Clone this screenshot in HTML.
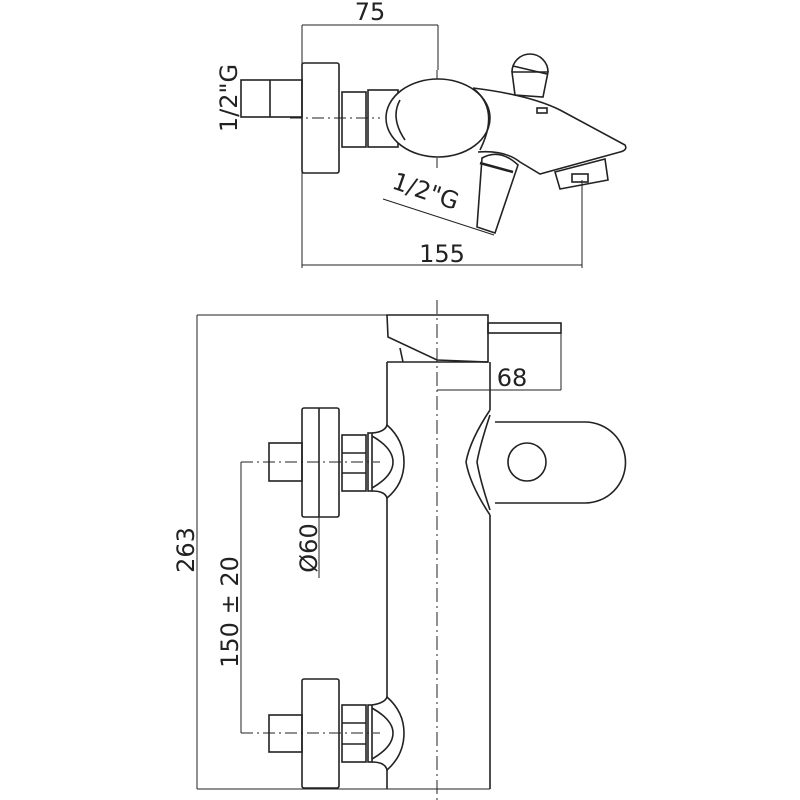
<!DOCTYPE html>
<html><head><style>html,body{margin:0;padding:0;background:#fff}svg{display:block}</style></head>
<body>
<svg width="800" height="800" viewBox="0 0 800 800" xmlns="http://www.w3.org/2000/svg" fill="none" stroke="#222" stroke-width="1.6" font-family="'DejaVu Sans','Liberation Sans',sans-serif">
<!-- TOP VIEW -->
<g stroke-width="1">
<line x1="302" y1="25" x2="438" y2="25"/>
<line x1="302" y1="25" x2="302" y2="268"/>
<line x1="438" y1="25" x2="438" y2="70"/>
<line x1="302" y1="265" x2="582" y2="265"/>
<line x1="582" y1="180" x2="582" y2="268"/>
<line x1="437" y1="70" x2="437" y2="168" stroke-dasharray="12,4,2,4"/>
<line x1="290" y1="118" x2="380" y2="118" stroke-dasharray="12,4,2,4"/>
<line x1="383" y1="199" x2="494" y2="235"/>
</g>
<text x="370" y="20" font-size="24" fill="#222" stroke="none" text-anchor="middle">75</text>
<text x="442" y="262" font-size="24" fill="#222" stroke="none" text-anchor="middle">155</text>
<text transform="translate(237,98) rotate(-90)" font-size="24" fill="#222" stroke="none" text-anchor="middle">1/2"G</text>
<text transform="translate(423,199) rotate(19)" font-size="24" fill="#222" stroke="none" text-anchor="middle">1/2"G</text>
<rect x="241" y="80" width="61" height="37"/>
<line x1="270" y1="80" x2="270" y2="117"/>
<rect x="302" y="63" width="37" height="110" rx="2"/>
<rect x="342" y="92" width="24" height="55"/>
<rect x="368" y="90" width="30" height="57"/>
<path d="M473 88 Q530 95 560 110 L625 145 Q628 150 620 152 L540 174 L520 162 Q505 150 478 152"/>
<ellipse cx="438" cy="118" rx="52" ry="39" fill="#fff"/>
<path d="M400 100 Q390 118 405 140"/>
<path d="M474 89 Q500 110 480 150"/>
<path d="M512 72 L548 72 L543 97 L515 95 Z"/>
<path d="M512 72 A18 18 0 1 1 548 72"/>
<line x1="513" y1="66" x2="547" y2="74"/>
<rect x="537" y="108" width="10" height="5"/>
<path d="M482 158 Q500 148 518 165 L495 233 L477 227 Z"/>
<line x1="480" y1="163" x2="513" y2="172" stroke-width="2.5"/>
<path d="M555 172 L605 159 L608 180 L560 189 Z"/>
<rect x="572" y="174" width="16" height="8"/>
<!-- FRONT VIEW -->
<g stroke-width="1">
<line x1="197" y1="315" x2="387" y2="315"/>
<line x1="197" y1="315" x2="197" y2="789"/>
<line x1="197" y1="789" x2="490" y2="789"/>
<line x1="437" y1="300" x2="437" y2="800" stroke-dasharray="14,4,2,4"/>
<line x1="437" y1="390" x2="561" y2="390"/>
<line x1="561" y1="333" x2="561" y2="390"/>
<line x1="241" y1="462" x2="241" y2="733"/>
<line x1="241" y1="462" x2="380" y2="462" stroke-dasharray="12,4,2,4"/>
<line x1="241" y1="733" x2="380" y2="733" stroke-dasharray="12,4,2,4"/>
<line x1="319" y1="517" x2="319" y2="578"/>
</g>
<text x="512" y="386" font-size="24" fill="#222" stroke="none" text-anchor="middle">68</text>
<text transform="translate(194,550) rotate(-90)" font-size="24" fill="#222" stroke="none" text-anchor="middle">263</text>
<text transform="translate(238,612) rotate(-90)" font-size="24" fill="#222" stroke="none" text-anchor="middle">150 ± 20</text>
<text transform="translate(317,548) rotate(-90)" font-size="24" fill="#222" stroke="none" text-anchor="middle">Ø60</text>
<path d="M387 315 L488 315 L488 362 L437 360 L388 337 Z"/>
<path d="M400 348 L403 362"/>
<rect x="488" y="323" width="73" height="10"/>
<line x1="387" y1="362" x2="488" y2="362"/>
<line x1="387" y1="362" x2="387" y2="425"/>
<line x1="387" y1="498" x2="387" y2="697"/>
<line x1="387" y1="770" x2="387" y2="789"/>
<line x1="490" y1="362" x2="490" y2="410"/>
<line x1="490" y1="515" x2="490" y2="789"/>
<path d="M490 410 Q470 440 466 462 Q470 485 490 515"/>
<path d="M495 422 L585 422 A40.5 40.5 0 0 1 585 503 L495 503"/>
<path d="M490 415 Q480 445 477 462 Q480 480 490 510"/>
<circle cx="527" cy="462" r="19"/>
<rect x="269" y="443" width="33" height="38"/>
<rect x="302" y="408" width="37" height="109" rx="2"/>
<line x1="319" y1="408" x2="319" y2="517"/>
<rect x="342" y="435" width="24" height="56"/>
<line x1="342" y1="453" x2="366" y2="453"/><line x1="342" y1="473" x2="366" y2="473"/>
<rect x="368" y="433" width="4" height="58"/>
<path d="M372 433 Q385 432 387 425 Q404 440 404 462 Q404 484 387 498 Q385 491 372 491"/>
<path d="M372 436 Q393 448 393 462 Q393 476 372 488"/>
<rect x="269" y="715" width="33" height="37"/>
<rect x="302" y="679" width="37" height="109" rx="2"/>
<rect x="342" y="705" width="24" height="57"/>
<line x1="342" y1="723" x2="366" y2="723"/><line x1="342" y1="744" x2="366" y2="744"/>
<rect x="368" y="705" width="4" height="57"/>
<path d="M372 705 Q385 703 387 697 Q404 712 404 733 Q404 755 387 770 Q385 762 372 762"/>
<path d="M372 708 Q393 720 393 733 Q393 747 372 759"/>
</svg>
</body></html>
